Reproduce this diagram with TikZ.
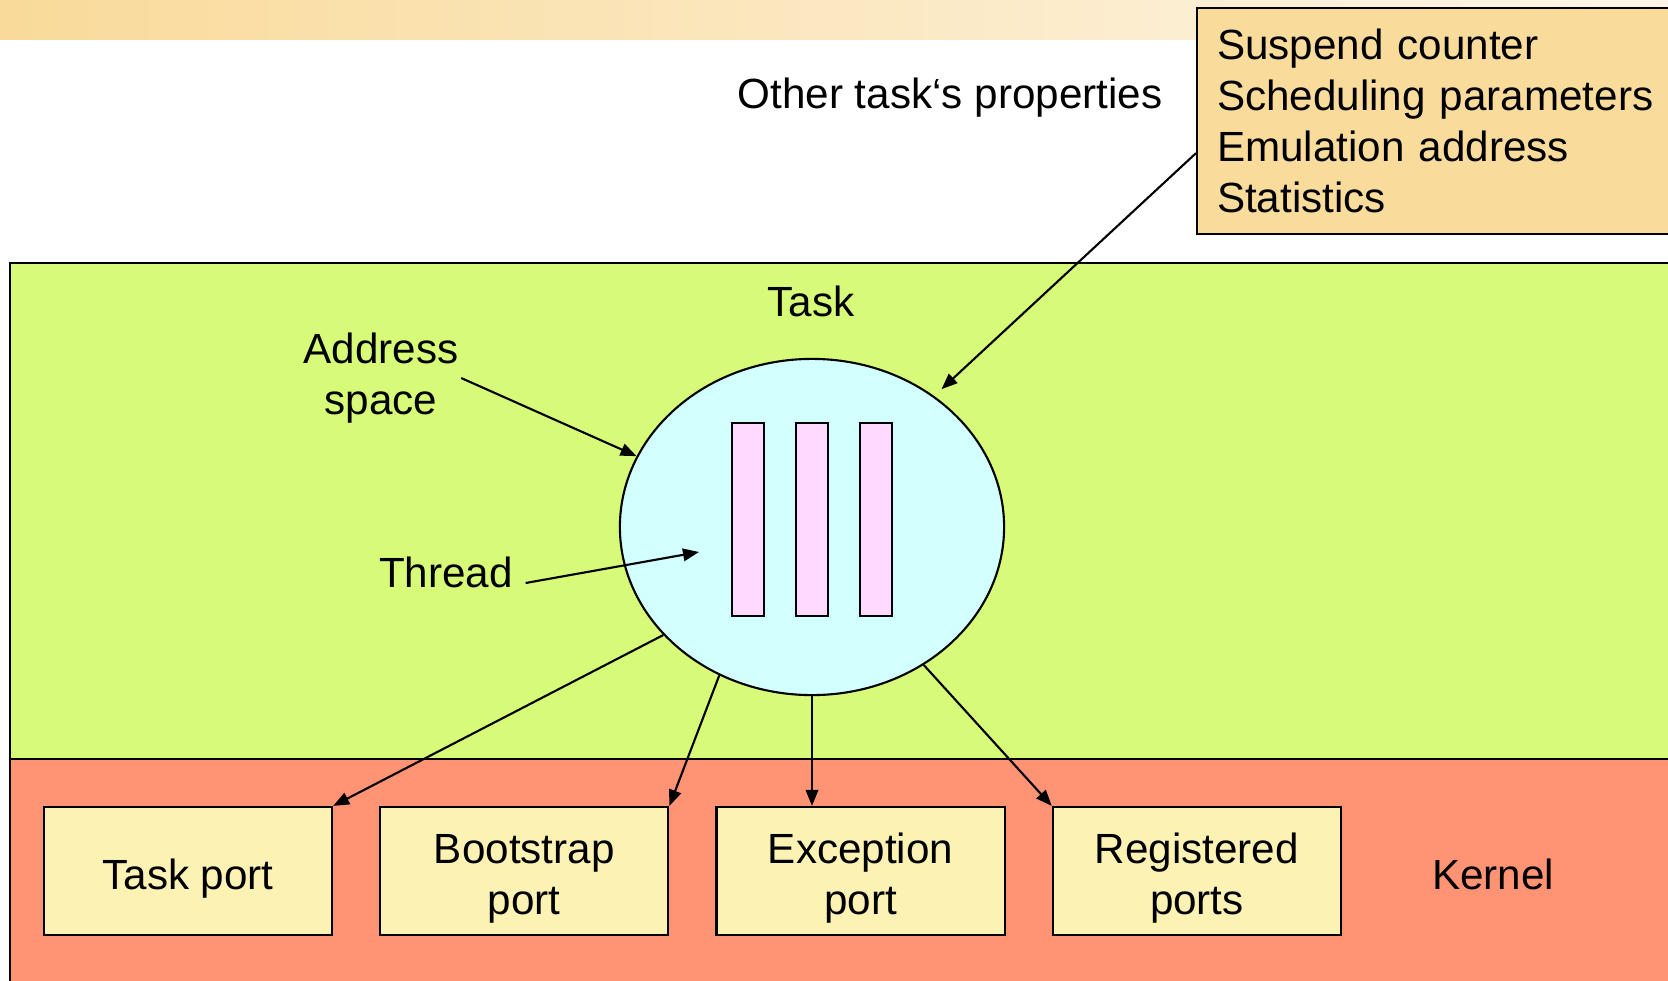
\documentclass[tikz,border=0pt]{standalone}
\usepackage{fontspec}
\setmainfont{Liberation Sans}
\usetikzlibrary{arrows.meta,shapes.geometric,positioning}
\definecolor{BarLeft}{HTML}{F9DA9A}
\definecolor{BarRight}{HTML}{FDF6E8}
\definecolor{PropFill}{HTML}{F9DB9B}
\definecolor{TaskGreen}{HTML}{D7FA78}
\definecolor{KernelRed}{HTML}{FF9474}
\definecolor{SpaceCyan}{HTML}{D2FFFF}
\definecolor{ThreadPink}{HTML}{FFD9FF}
\definecolor{PortYellow}{HTML}{FCF2B4}

\begin{document}
\begin{tikzpicture}[x=0.01cm,y=-0.01cm,line width=0.6pt,font=\fontsize{12}{14.5}\selectfont,
  port/.style={draw,fill=PortYellow,minimum width=2.88cm,minimum height=1.28cm,inner sep=0pt,align=center,text height=#1},
  port/.default=13pt,
  threadbar/.style={draw,fill=ThreadPink},
  link/.style={-{Triangle[length=1.6mm,width=1.25mm]}}]
  \useasboundingbox (0,0) rectangle (1668,981);\clip (0,0) rectangle (1668,981);
  \shade[left color=BarLeft,right color=BarRight] (0,0) rectangle (1668,39);
  \draw[fill=TaskGreen] (10,263) rectangle (1690,759);
  \draw[fill=KernelRed] (10,759) rectangle (1690,1000);
  \node (props) [draw,fill=PropFill,anchor=north west,minimum width=5cm,minimum height=2.26cm,text width=4.6cm,inner xsep=2mm,align=left] at (1196,7)
    {Suspend counter\\Scheduling parameters\\Emulation address\\Statistics};
  \node (other) at (950,98) {Other task‘s properties};
  \node (tasklbl) at (811,301) {Task};
  \node (space) [ellipse,draw,fill=SpaceCyan,minimum width=3.84cm,minimum height=3.36cm,inner sep=0pt] at (812,527) {};
  \foreach \x in {732,796,860}{\draw[threadbar] (\x,423) rectangle ++(32,193);}
  \node (aspace) [align=center] at (381,378) {Address\\space};
  \node (thread) at (446,572) {Thread};\coordinate (thrtip) at (699,552);
  \node (tport) [port] at (188,871) {Task port};
  \node (bport) [port=27pt,right=0.46cm of tport] {Bootstrap\\port};
  \node (eport) [port=27pt,right=0.46cm of bport] {Exception\\port};
  \node (rport) [port=27pt,right=0.46cm of eport] {Registered\\ports};
  \node (kernel) at (1493,874) {Kernel};
  \draw[link,shorten >=1mm] ([yshift=-3.2mm]props.west) -- (space.47);
  \draw[link] ([xshift=-1mm]aspace.east) -- (space.158);
  \draw[link] ([yshift=-1.1mm]thread.east) -- (thrtip);
  \draw[link] (space.216) -- (tport.north east);
  \draw[link] (space.238) -- (bport.north east);
  \draw[link] (space.south) -- (space.south |- eport.north);
  \draw[link] (space.-51) -- (rport.north west);
\end{tikzpicture}
\end{document}
